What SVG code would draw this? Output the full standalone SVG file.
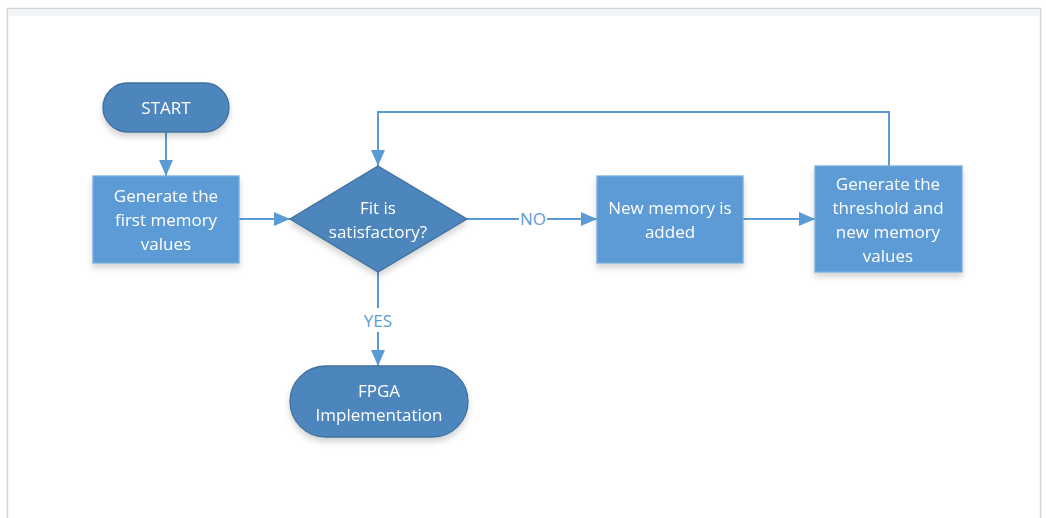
<svg xmlns="http://www.w3.org/2000/svg" width="1046" height="518" viewBox="0 0 1046 518">
  <style>
    .term { fill: #4E86BD; stroke: #41719C; stroke-width: 1.3; }
    .proc { fill: #5B9BD5; stroke: #7AAEDD; stroke-width: 1.3; }
    .dec { fill: #4E86BD; stroke: #41719C; stroke-width: 1.3; }
    .label { font-family: "Open Sans", "Noto Sans", sans-serif; font-size: 17px; fill: #FFFFFF; text-anchor: middle; }
    .edge-label { font-family: "Open Sans", "Noto Sans", sans-serif; font-size: 17px; fill: #5B9BD5; text-anchor: middle; }
    .wire { fill: none; stroke: #5B9BD5; stroke-width: 2; }
  </style>
  <defs>
    <marker id="arrow" viewBox="0 0 16 14" refX="16" refY="7" markerWidth="16" markerHeight="14" markerUnits="userSpaceOnUse" orient="auto">
      <path d="M0,0 L16,7 L0,14 Z" fill="#5B9BD5"/>
    </marker>
    <filter id="shadow" x="-20%" y="-20%" width="140%" height="150%">
      <feDropShadow dx="0" dy="4" stdDeviation="3" flood-color="#000000" flood-opacity="0.18"/>
    </filter>
  </defs>

  <!-- page frame -->
  <rect x="0" y="0" width="1046" height="518" fill="#FFFFFF"/>
  <path d="M7.5,518 V8.5 H1040.5 V518" fill="none" stroke="#D4D4D4" stroke-width="1.5"/>
  <rect x="9" y="10" width="1030" height="6" fill="#F2F6FA"/>

  <!-- connectors -->
  <g id="connectors">
    <path class="wire" d="M166,132 V176" marker-end="url(#arrow)"/>
    <path class="wire" d="M239,219 H290" marker-end="url(#arrow)"/>
    <path class="wire" d="M467,219 H597" marker-end="url(#arrow)"/>
    <path class="wire" d="M743,219 H815" marker-end="url(#arrow)"/>
    <path class="wire" d="M889,166 V112 H378 V166" marker-end="url(#arrow)"/>
    <path class="wire" d="M378,272 V366" marker-end="url(#arrow)"/>
    <rect x="519" y="208" width="28" height="22" fill="#FFFFFF"/>
    <text class="edge-label" x="533" y="225">NO</text>
    <rect x="362" y="308" width="32" height="24" fill="#FFFFFF"/>
    <text class="edge-label" x="378" y="327">YES</text>
  </g>

  <g id="start" filter="url(#shadow)">
    <rect class="term" x="103" y="83" width="126" height="49" rx="24.5"/>
    <text class="label" x="166" y="114">START</text>
  </g>

  <g id="generate-first" filter="url(#shadow)">
    <rect class="proc" x="93" y="176" width="146" height="87"/>
    <text class="label" x="166" y="202">Generate the</text>
    <text class="label" x="166" y="226">first memory</text>
    <text class="label" x="166" y="250">values</text>
  </g>

  <g id="fit-check" filter="url(#shadow)">
    <path class="dec" d="M378,166 L467,219 L378,272 L290,219 Z"/>
    <text class="label" x="378" y="214">Fit is</text>
    <text class="label" x="378" y="238">satisfactory?</text>
  </g>

  <g id="new-memory" filter="url(#shadow)">
    <rect class="proc" x="597" y="176" width="146" height="87"/>
    <text class="label" x="670" y="214">New memory is</text>
    <text class="label" x="670" y="238">added</text>
  </g>

  <g id="generate-threshold" filter="url(#shadow)">
    <rect class="proc" x="815" y="166" width="147" height="106"/>
    <text class="label" x="888" y="190">Generate the</text>
    <text class="label" x="888" y="214">threshold and</text>
    <text class="label" x="888" y="238">new memory</text>
    <text class="label" x="888" y="262">values</text>
  </g>

  <g id="fpga" filter="url(#shadow)">
    <rect class="term" x="290" y="366" width="178" height="71" rx="35.5"/>
    <text class="label" x="379" y="397">FPGA</text>
    <text class="label" x="379" y="421">Implementation</text>
  </g>
</svg>
